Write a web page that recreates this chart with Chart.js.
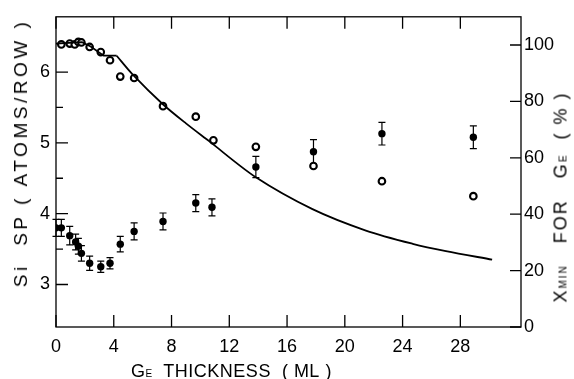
<!DOCTYPE html>
<html>
<head>
<meta charset="utf-8">
<script src="https://cdn.jsdelivr.net/npm/chart.js@4/dist/chart.umd.min.js"></script>
<style>
  html, body { margin: 0; padding: 0; background: #fff; }
  #wrap { position: relative; width: 574px; height: 379px; font-family: "Liberation Sans", Arial, sans-serif; color: #000; }
  .title { position: absolute; white-space: nowrap; font-size: 18px; line-height: 18px; }
  .rot { transform: translate(-50%, -50%) rotate(-90deg); }
  .sc { font-size: 10px; }
</style>
</head>
<body>
<div id="wrap">
  <canvas id="chart" width="574" height="379"></canvas>
  <div class="title rot" style="left:21px; top:153px; font-size:19px; letter-spacing:3.5px;">Si&nbsp; SP (&nbsp;ATOMS/ROW&nbsp;)</div>
  <div class="title rot" style="left:562px; top:197px; letter-spacing:2px;">X<span class="sc">MIN</span>&nbsp;&nbsp; FOR&nbsp;&nbsp; G<span class="sc">E</span>&nbsp; (&nbsp;%&nbsp;)</div>
  <div class="title" style="left:131px; top:362px; letter-spacing:0.5px;">G<span class="sc">E</span>&nbsp; THICKNESS&nbsp; (&nbsp;ML&nbsp;)</div>
</div>
<script>
// Ge thickness (ML) for the Si SP points and their values / error bars
const spX   = [0, 0.37, 0.95, 1.36, 1.55, 1.76, 2.33, 3.1, 3.74, 4.45, 5.41, 7.41, 9.68, 10.8, 13.84, 17.83, 22.57, 28.9];
const spY   = [3.80, 3.80, 3.69, 3.60, 3.54, 3.44, 3.30, 3.25, 3.30, 3.57, 3.75, 3.89, 4.15, 4.09, 4.66, 4.875, 5.13, 5.08];
const spErr = [0.12, 0.12, 0.13, 0.11, 0.11, 0.11, 0.10, 0.08, 0.08, 0.11, 0.12, 0.12, 0.12, 0.12, 0.15, 0.17, 0.16, 0.16];

// Xmin for Ge (%) - open circles
const xminX = [0.37, 0.95, 1.3, 1.55, 1.76, 2.33, 3.1, 3.74, 4.45, 5.41, 7.41, 9.68, 10.9, 13.84, 17.83, 22.57, 28.9];
const xminY = [100.2, 100.5, 100.2, 101.1, 100.9, 99.3, 97.5, 94.6, 88.8, 88.3, 78.3, 74.6, 66.2, 63.9, 57.1, 51.7, 46.4];

// solid curve (Xmin, %): flat start, then smooth fall-off
const fitStartX = [0, 1.8, 2.4, 3.3, 4.2];
const fitStartY = [100.5, 101, 99.5, 96.2, 96.2];
const fitX = [4.2, 5.3, 7.4, 9.0, 10.6, 13.84, 17.76, 21.46, 24.7, 27.0, 30.2];
const fitY = [96.2, 89.6, 79.0, 72.2, 65.9, 53.1, 41.8, 34.2, 29.5, 26.9, 23.9];

// tick values
const xTicks = [0, 4, 8, 12, 16, 20, 24, 28];
const leftTicks = [3, 4, 5, 6];
const leftMinor = [3.5, 4.5, 5.5];
const rightTicks = [0, 20, 40, 60, 80, 100];

const pts = (xs, ys) => xs.map((x, i) => ({x: x, y: ys[i]}));
const tickFont = {family: '"Liberation Sans", Arial, sans-serif', size: 18};

// frame, inward ticks and error bars
const framePlugin = {
  id: 'frame',
  beforeDatasetsDraw(chart) {
    const ctx = chart.ctx, sx = chart.scales.x, sy = chart.scales.y;
    ctx.save();
    ctx.strokeStyle = '#000';
    ctx.lineWidth = 1.2;
    spX.forEach((x, i) => {
      const px = sx.getPixelForValue(x);
      const top = sy.getPixelForValue(spY[i] + spErr[i]);
      const bot = sy.getPixelForValue(spY[i] - spErr[i]);
      ctx.beginPath();
      ctx.moveTo(px, top); ctx.lineTo(px, bot);
      ctx.moveTo(px - 3.5, top); ctx.lineTo(px + 3.5, top);
      ctx.moveTo(px - 3.5, bot); ctx.lineTo(px + 3.5, bot);
      ctx.stroke();
    });
    ctx.restore();
  },
  afterDraw(chart) {
    const ctx = chart.ctx, a = chart.chartArea;
    const sx = chart.scales.x, sy = chart.scales.y, sy2 = chart.scales.y2;
    ctx.save();
    ctx.strokeStyle = '#000';
    ctx.lineWidth = 1.3;
    ctx.strokeRect(a.left, a.top, a.right - a.left, a.bottom - a.top);
    ctx.beginPath();
    xTicks.forEach(v => {
      const px = sx.getPixelForValue(v);
      ctx.moveTo(px, a.bottom); ctx.lineTo(px, a.bottom - 12);
      ctx.moveTo(px, a.top); ctx.lineTo(px, a.top + 12);
    });
    leftTicks.forEach(v => {
      const py = sy.getPixelForValue(v);
      ctx.moveTo(a.left, py); ctx.lineTo(a.left + 12, py);
    });
    leftMinor.forEach(v => {
      const py = sy.getPixelForValue(v);
      ctx.moveTo(a.left, py); ctx.lineTo(a.left + 7, py);
    });
    rightTicks.forEach(v => {
      const py = sy2.getPixelForValue(v);
      ctx.moveTo(a.right, py); ctx.lineTo(a.right - 11, py);
    });
    ctx.stroke();
    ctx.restore();
  }
};

const lineStyle = {
  yAxisID: 'y2',
  showLine: true,
  borderColor: '#000',
  borderWidth: 1.8,
  pointRadius: 0
};

new Chart(document.getElementById('chart'), {
  type: 'scatter',
  data: {
    datasets: [
      Object.assign({label: 'fit start', data: pts(fitStartX, fitStartY), tension: 0}, lineStyle),
      Object.assign({label: 'fit', data: pts(fitX, fitY), tension: 0.3}, lineStyle),
      {
        label: 'Xmin',
        data: pts(xminX, xminY),
        yAxisID: 'y2',
        pointRadius: 3.3,
        pointBorderWidth: 2.1,
        pointBorderColor: '#000',
        pointBackgroundColor: '#fff'
      },
      {
        label: 'Si SP',
        data: pts(spX, spY),
        yAxisID: 'y',
        pointRadius: 3.7,
        pointBorderWidth: 0,
        pointBackgroundColor: '#000'
      }
    ]
  },
  options: {
    responsive: false,
    animation: false,
    events: [],
    layout: {padding: {top: 12, left: 0, right: 0, bottom: 0}},
    plugins: {legend: {display: false}, tooltip: {enabled: false}},
    scales: {
      x: {
        type: 'linear', min: 0, max: 32.2, position: 'bottom',
        afterBuildTicks: s => { s.ticks = xTicks.map(v => ({value: v})); },
        afterFit: s => { s.height = 52; },
        grid: {display: false, drawTicks: false},
        border: {display: false},
        ticks: {padding: 9, color: '#000', font: tickFont, maxRotation: 0}
      },
      y: {
        type: 'linear', min: 2.4, max: 6.78, position: 'left',
        afterBuildTicks: s => { s.ticks = leftTicks.map(v => ({value: v})); },
        afterFit: s => { s.width = 56; },
        grid: {display: false, drawTicks: false},
        border: {display: false},
        ticks: {padding: 6, color: '#000', font: tickFont}
      },
      y2: {
        type: 'linear', min: 0, max: 110, position: 'right',
        afterBuildTicks: s => { s.ticks = rightTicks.map(v => ({value: v})); },
        afterFit: s => { s.width = 53; },
        grid: {display: false, drawTicks: false},
        border: {display: false},
        ticks: {padding: 3, color: '#000', font: tickFont}
      }
    }
  },
  plugins: [framePlugin]
});
</script>
</body>
</html>
